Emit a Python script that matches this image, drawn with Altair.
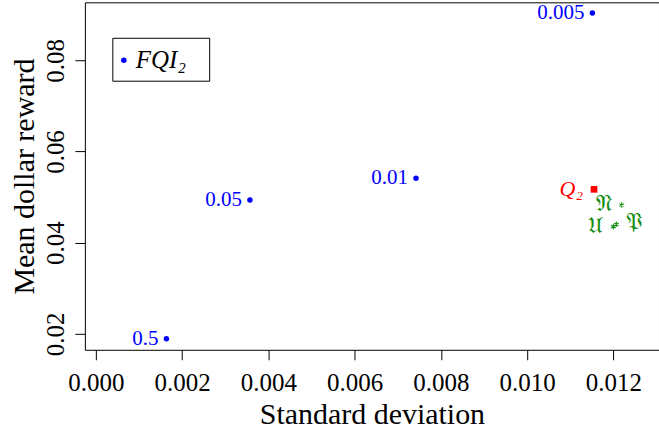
import altair as alt
import pandas as pd

# FQI_2 points
fqi_labels = ["0.5", "0.05", "0.01", "0.005"]
fqi_sd = [0.001636, 0.003572, 0.007423, 0.011512]
fqi_mean = [0.0189, 0.04935, 0.05411, 0.09038]

# Q_2 point
q_label = ["Q\u2082"]
q_sd = [0.01155]
q_mean = [0.0517]

# other points (fraktur labels)
g_labels = ["\U0001D511", "\U0001D518", "\U0001D513"]
g_sd = [0.012192, 0.011998, 0.012067]
g_mean = [0.04826, 0.04351, 0.04403]
g_side = ["left", "left", "right"]

legend_label = ["FQI\u2082"]

x_ticks = [0.0, 0.002, 0.004, 0.006, 0.008, 0.010, 0.012]
y_ticks = [0.02, 0.04, 0.06, 0.08]

FONT = "Liberation Serif"

fqi = pd.DataFrame({"sd": fqi_sd, "mean": fqi_mean, "label": fqi_labels})
qd = pd.DataFrame({"sd": q_sd, "mean": q_mean, "label": q_label})
gd = pd.DataFrame({"sd": g_sd, "mean": g_mean, "label": g_labels, "side": g_side})
ld = pd.DataFrame({"label": legend_label})

xs = alt.Scale(domain=[-0.0002546, 0.013056], nice=False, zero=False)
ys = alt.Scale(domain=[0.016495, 0.092727], nice=False, zero=False)

X = alt.X("sd:Q", scale=xs, title="Standard deviation",
          axis=alt.Axis(values=x_ticks, format=".3f"))
Y = alt.Y("mean:Q", scale=ys, title="Mean dollar reward",
          axis=alt.Axis(values=y_ticks, format=".2f", labelAngle=270,
                        labelAlign="center", labelBaseline="bottom"))

blue = "#0000ff"
red = "#ff0000"
green = "#118c11"

pts = alt.Chart(fqi).mark_circle(size=30, opacity=1, color=blue).encode(x=X, y=Y)
pts_txt = alt.Chart(fqi).mark_text(align="right", baseline="middle", dx=-8,
                                   font=FONT, fontSize=21, color=blue).encode(
    x="sd:Q", y="mean:Q", text="label:N")

q_pt = alt.Chart(qd).mark_square(size=45, color=red, opacity=1).encode(x="sd:Q", y="mean:Q")
q_txt = alt.Chart(qd).mark_text(align="right", baseline="middle", dx=-11,
                                font=FONT, fontSize=22, fontStyle="italic", color=red).encode(
    x="sd:Q", y="mean:Q", text="label:N")

star = "M0,-1L0,1M-0.87,-0.5L0.87,0.5M-0.87,0.5L0.87,-0.5"
g_pt = alt.Chart(gd).mark_point(shape=star, size=30, color=green, strokeWidth=1.1,
                                opacity=1).encode(x="sd:Q", y="mean:Q")
g_txt_l = alt.Chart(gd).transform_filter(alt.datum.side == "left").mark_text(
    align="right", baseline="middle", dx=-10, dy=-1, font=FONT, fontSize=23,
    color=green).encode(x="sd:Q", y="mean:Q", text="label:N")
g_txt_r = alt.Chart(gd).transform_filter(alt.datum.side == "right").mark_text(
    align="left", baseline="middle", dx=10, dy=-2, font=FONT, fontSize=23,
    color=green).encode(x="sd:Q", y="mean:Q", text="label:N")

# legend box (drawn in pixel space of the plot area)
leg_box = alt.Chart(ld).mark_rect(fill="white", stroke="black", strokeWidth=1).encode(
    x=alt.value(28), x2=alt.value(125), y=alt.value(36), y2=alt.value(79))
leg_dot = alt.Chart(ld).mark_circle(size=30, opacity=1, color=blue).encode(
    x=alt.value(39), y=alt.value(58))
leg_txt = alt.Chart(ld).mark_text(align="left", baseline="middle", font=FONT,
                                  fontSize=25, fontStyle="italic", color="black").encode(
    x=alt.value(51), y=alt.value(58), text="label:N")

chart = alt.layer(pts, pts_txt, q_pt, q_txt, g_pt, g_txt_l, g_txt_r,
                  leg_box, leg_dot, leg_txt).properties(
    width=575, height=348,
    autosize=alt.AutoSizeParams(type="none"),
    padding={"left": 85, "top": 2, "right": 0, "bottom": 81},
    background="white",
).configure_view(stroke="black", strokeWidth=1).configure_axis(
    domain=False, grid=False, ticks=True, tickColor="black", tickSize=10,
    labelFont=FONT, labelFontSize=25, labelColor="black",
    titleFont=FONT, titleFontSize=30, titleFontWeight="normal", titleColor="black",
).configure_axisX(titlePadding=4, labelPadding=11).configure_axisY(
    titlePadding=4, labelPadding=6
)

chart.save("out.html", embed_options={"renderer": "svg", "actions": False})
